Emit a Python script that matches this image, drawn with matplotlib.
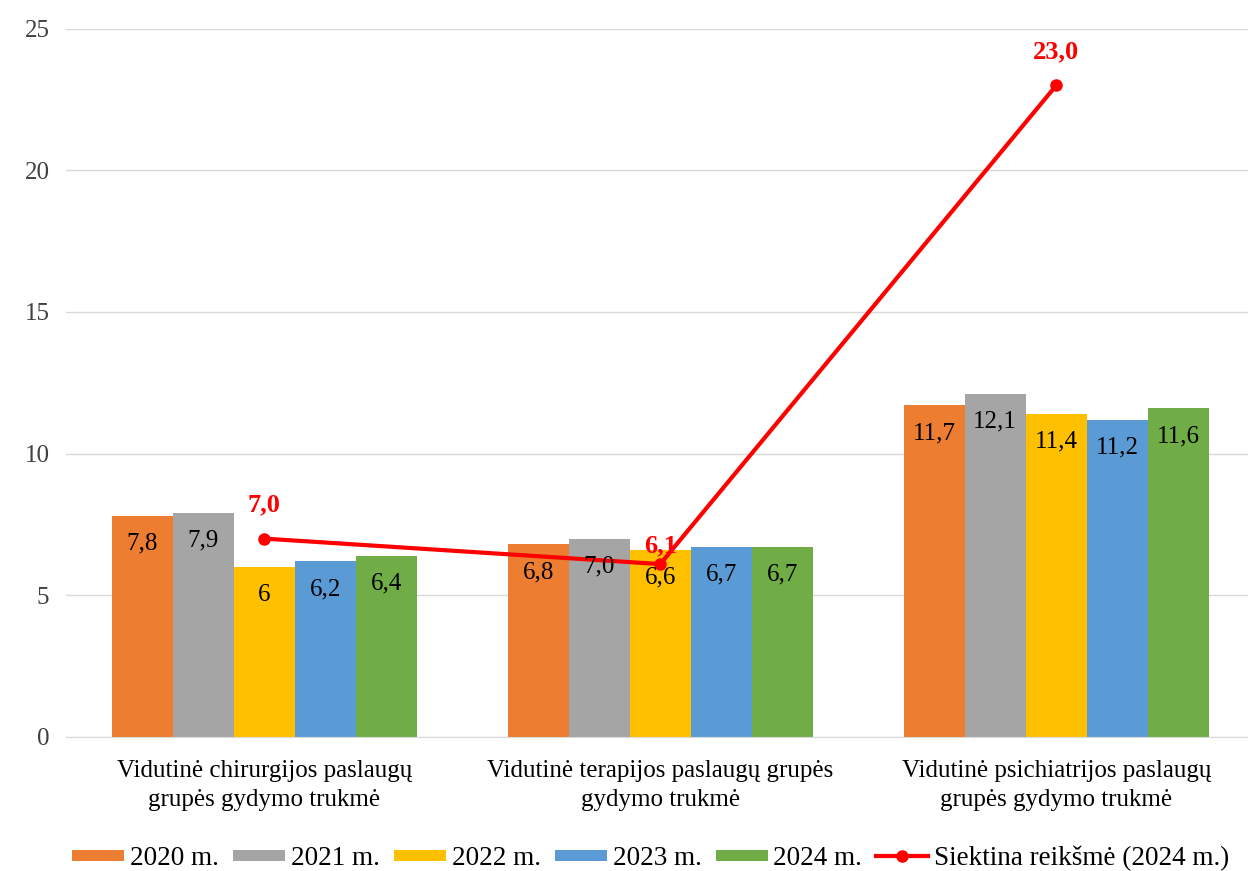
import matplotlib.pyplot as plt
import matplotlib.patches as mpatches
from matplotlib.legend_handler import HandlerPatch
import numpy as np

plt.rcParams['font.family'] = ['Liberation Serif', 'DejaVu Serif']

categories = ["Vidutinė chirurgijos paslaugų\ngrupės gydymo trukmė",
              "Vidutinė terapijos paslaugų grupės\ngydymo trukmė",
              "Vidutinė psichiatrijos paslaugų\ngrupės gydymo trukmė"]
years = ["2020 m.", "2021 m.", "2022 m.", "2023 m.", "2024 m."]
v2020 = [7.8, 6.8, 11.7]
v2021 = [7.9, 7.0, 12.1]
v2022 = [6.0, 6.6, 11.4]
v2023 = [6.2, 6.7, 11.2]
v2024 = [6.4, 6.7, 11.6]
labels2020 = ["7,8", "6,8", "11,7"]
labels2021 = ["7,9", "7,0", "12,1"]
labels2022 = ["6", "6,6", "11,4"]
labels2023 = ["6,2", "6,7", "11,2"]
labels2024 = ["6,4", "6,7", "11,6"]
target = [7.0, 6.1, 23.0]
target_labels = ["7,0", "6,1", "23,0"]
target_name = "Siektina reikšmė (2024 m.)"

series = [v2020, v2021, v2022, v2023, v2024]
series_labels = [labels2020, labels2021, labels2022, labels2023, labels2024]
colors = ["#ED7D31", "#A5A5A5", "#FFC000", "#5B9BD5", "#70AD47"]


def flat_rect(legend, orig_handle, xdescent, ydescent, width, height, fontsize):
    # thin colour box like the Excel legend keys
    return mpatches.Rectangle((-xdescent, -ydescent + height * 0.25),
                              width, height * 0.58)


fig = plt.figure(figsize=(12.48, 8.71), dpi=100)
ax = fig.add_axes([0.053, 0.154, 0.952, 0.813])

x = np.arange(len(categories))
w = 0.154
bars = []
for i, (vals, labs) in enumerate(zip(series, series_labels)):
    pos = x + (i - 2) * w
    b = ax.bar(pos, vals, width=w, color=colors[i], label=years[i], zorder=2)
    bars.append(b)
    for px, v, t in zip(pos, vals, labs):
        ax.annotate(t, (px, v), xytext=(0, -20), textcoords="offset points",
                    ha="center", va="center", fontsize=18, color="black", zorder=4)

line, = ax.plot(x, target, color="#FF0000", lw=3, marker="o", markersize=8,
                label=target_name, zorder=3)
offsets = [24, 13, 24]
for px, v, t, off in zip(x, target, target_labels, offsets):
    ax.annotate(t, (px, v), xytext=(0, off), textcoords="offset points",
                ha="center", va="center", fontsize=19, fontweight="bold",
                color="#FF0000", zorder=4)

ax.set_ylim(0, 25)
ax.set_yticks([0, 5, 10, 15, 20, 25])
ax.set_xlim(-0.5, 2.5)
ax.set_xticks(x)
ax.set_xticklabels(categories, fontsize=18.5, linespacing=1.4)
ax.tick_params(axis="both", length=0, labelsize=18, colors="#404040")
ax.tick_params(axis="x", pad=17, colors="black")
ax.tick_params(axis="y", pad=12)
ax.grid(axis="y", color="#D9D9D9", lw=1, zorder=0)
ax.set_axisbelow(True)
for s in ["top", "right", "left"]:
    ax.spines[s].set_visible(False)
ax.spines["bottom"].set_color("#D9D9D9")

handles = [b.patches[0] for b in bars] + [line]
ax.legend(handles, years + [target_name], loc="center",
          bbox_to_anchor=(0.492, -0.172),
          ncol=6, frameon=False, fontsize=19.5, handlelength=1.92,
          handletextpad=0.22, columnspacing=0.52,
          handler_map={mpatches.Rectangle: HandlerPatch(patch_func=flat_rect)})

fig.savefig("out.png", dpi=100)
